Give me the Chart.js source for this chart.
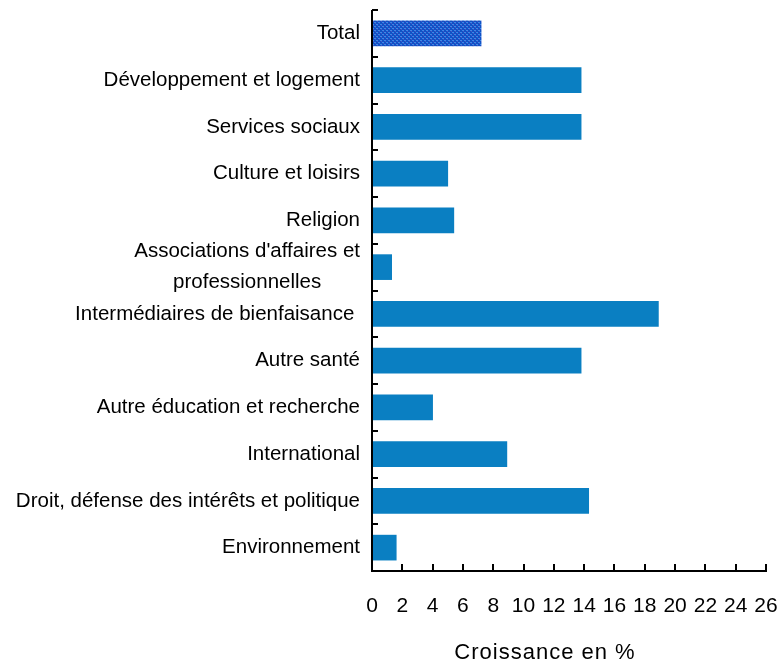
<!DOCTYPE html>
<html><head><meta charset="utf-8">
<script src="https://cdn.jsdelivr.net/npm/chart.js@4/dist/chart.umd.min.js"></script>
<style>html,body{margin:0;padding:0;background:#fff}#wrap{width:779px;height:667px}</style>
</head><body><div id="wrap"><canvas id="c" width="779" height="667"></canvas></div>
<script>
const categories = ["Total", "Développement et logement", "Services sociaux", "Culture et loisirs", "Religion", ["Associations d'affaires et", "professionnelles"], "Intermédiaires de bienfaisance ", "Autre santé", "Autre éducation et recherche", "International", "Droit, défense des intérêts et politique", "Environnement"];
const growth = [7.2, 13.8, 13.8, 5.0, 5.4, 1.3, 18.9, 13.8, 4.0, 8.9, 14.3, 1.6];
const xMin = 0, xMax = 26, xStep = 2;
const axisTitle = "Croissance en %";

const FONT = '"Liberation Sans", Arial, sans-serif';
const canvas = document.getElementById('c');
const ctx0 = canvas.getContext('2d');

function dotPattern() {
  const p = document.createElement('canvas'); p.width = 4; p.height = 4;
  const g = p.getContext('2d');
  g.fillStyle = '#0f52c6'; g.fillRect(0, 0, 4, 4);
  g.fillStyle = '#3f86e6'; g.fillRect(0, 0, 2, 1); g.fillRect(2, 2, 2, 1);
  g.fillStyle = '#4a4fc0'; g.fillRect(1, 1, 1, 1); g.fillRect(3, 3, 1, 1);
  return ctx0.createPattern(p, 'repeat');
}
const barColors = growth.map((v, i) => i === 0 ? dotPattern() : '#0a7fc2');

const decor = {
  id: 'decor',
  afterDraw(chart) {
    const ctx = chart.ctx;
    const xs = chart.scales.x, ys = chart.scales.y;
    const ca = chart.chartArea;
    ctx.save();
    ctx.strokeStyle = '#000';
    ctx.lineWidth = 2;
    ctx.beginPath();
    ctx.moveTo(ca.left, ca.top);
    ctx.lineTo(ca.left, ca.bottom + 1);
    ctx.moveTo(ca.left - 1, ca.bottom);
    ctx.lineTo(ca.right + 1, ca.bottom);
    ctx.stroke();
    ctx.beginPath();
    const n = categories.length;
    const half = (ys.getPixelForTick(1) - ys.getPixelForTick(0)) / 2;
    for (let i = 0; i < n; i++) {
      const yb = Math.round(ys.getPixelForTick(i) - half);
      ctx.moveTo(ca.left, yb);
      ctx.lineTo(ca.left + 6, yb);
    }
    for (let v = xMin + xStep; v <= xMax; v += xStep) {
      const xp = Math.round(xs.getPixelForValue(v));
      ctx.moveTo(xp, ca.bottom);
      ctx.lineTo(xp, ca.bottom - 7);
    }
    ctx.stroke();
    ctx.fillStyle = '#000';
    ctx.font = '20.5px ' + FONT;
    ctx.textBaseline = 'middle';
    const rightX = ca.left - 12;
    categories.forEach((lab, i) => {
      const y = ys.getPixelForTick(i);
      if (Array.isArray(lab)) {
        const w = Math.max(...lab.map(s => ctx.measureText(s).width));
        const cx = rightX - w / 2;
        ctx.textAlign = 'center';
        lab.forEach((s, j) => ctx.fillText(s, cx, y + (j - (lab.length - 1) / 2) * 31));
      } else {
        ctx.textAlign = 'right';
        ctx.fillText(lab, rightX, y);
      }
    });
    ctx.font = '22px ' + FONT;
    ctx.letterSpacing = '1px';
    ctx.textAlign = 'center';
    ctx.fillText(axisTitle, 545, 653);
    ctx.restore();
  }
};

new Chart(canvas, {
  type: 'bar',
  data: {
    labels: categories,
    datasets: [{ data: growth, backgroundColor: barColors, borderWidth: 0, barThickness: 25 }]
  },
  options: {
    indexAxis: 'y',
    responsive: false,
    animation: false,
    devicePixelRatio: 1,
    layout: { padding: { left: 0, top: 10, right: 13, bottom: 0 } },
    plugins: { legend: { display: false }, tooltip: { enabled: false } },
    scales: {
      x: {
        type: 'linear', position: 'bottom', min: xMin, max: xMax,
        ticks: { stepSize: xStep, color: '#000', font: { family: FONT, size: 21 }, padding: 23, maxRotation: 0, autoSkip: false },
        grid: { display: false, drawTicks: false },
        border: { display: false },
        afterFit(s) { s.height = 96; s.paddingLeft = 0; s.paddingRight = 0; }
      },
      y: {
        type: 'category', offset: true,
        ticks: { display: false },
        grid: { display: false, drawTicks: false },
        border: { display: false },
        afterFit(s) { s.width = 372; s.paddingTop = 0; s.paddingBottom = 0; }
      }
    }
  },
  plugins: [decor]
});
</script>
</body></html>
